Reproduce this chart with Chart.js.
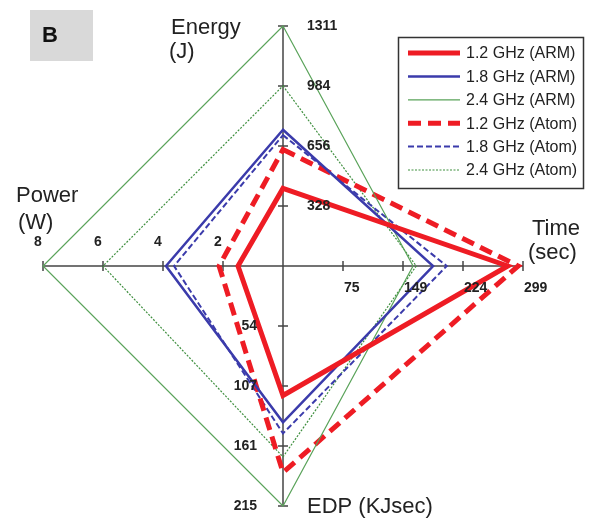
<!DOCTYPE html>
<html>
<head>
<meta charset="utf-8">
<script src="https://cdn.jsdelivr.net/npm/chart.js@4.4.1/dist/chart.umd.min.js"></script>
<style>
  body { margin: 0; background: #fff; }
  #wrap { width: 596px; height: 519px; }
</style>
</head>
<body>
<div id="wrap"><canvas id="radarChart" width="596" height="519"></canvas></div>
<script>
// axes, clockwise from the top
let axisNames = ["Energy", "Time", "EDP", "Power"];
let axisMax = [1311, 299, 215, 8];
let energyTicks = ["328", "656", "984", "1311"];
let timeTicks = ["75", "149", "224", "299"];
let edpTicks = ["54", "107", "161", "215"];
let powerTicks = ["2", "4", "6", "8"];

// raw values: [Energy (J), Time (sec), EDP (KJsec), Power (W)]
let arm12 = [424, 280, 116, 1.5];
let arm18 = [744, 187, 140, 3.9];
let arm24 = [1311, 162, 215, 8];
let atom12 = [636, 293, 185, 2.13];
let atom18 = [715, 204, 150, 3.63];
let atom24 = [984, 166, 171, 6];

let seriesNames = ["1.2 GHz (ARM)", "1.8 GHz (ARM)", "2.4 GHz (ARM)", "1.2 GHz (Atom)", "1.8 GHz (Atom)", "2.4 GHz (Atom)"];

// every axis is scaled to 0..4 so all four share one radial scale
function norm(values) {
    return values.map((v, i) => v / axisMax[i] * 4);
}

let styles = [
    { color: "#ee1c24", width: 5, dash: [] },
    { color: "#3b3bab", width: 2.5, dash: [] },
    { color: "#5aa35a", width: 1.2, dash: [] },
    { color: "#ee1c24", width: 5, dash: [13, 7] },
    { color: "#3b3bab", width: 2, dash: [6, 3] },
    { color: "#3f8f3f", width: 1.2, dash: [2, 1.5] }
];

let seriesData = [arm12, arm18, arm24, atom12, atom18, atom24];

let datasets = seriesData.map((vals, i) => ({
    label: seriesNames[i],
    data: norm(vals),
    borderColor: styles[i].color,
    borderWidth: styles[i].width,
    borderDash: styles[i].dash,
    borderJoinStyle: "miter",
    fill: false,
    pointRadius: 0,
    pointHoverRadius: 0
}));

const FONT = "'Liberation Sans', Arial, sans-serif";

// tick marks, tick labels, axis titles, legend and panel letter
const decorPlugin = {
    id: "decor",
    beforeDatasetsDraw(chart) {
        let ctx = chart.ctx;
        let r = chart.scales.r;
        ctx.save();
        ctx.strokeStyle = "#444";
        ctx.lineWidth = 1.5;
        for (let i = 0; i < axisNames.length; i++) {
            let a = r.getIndexAngle(i) - Math.PI / 2;
            let px = -Math.sin(a), py = Math.cos(a);
            for (let k = 1; k <= 4; k++) {
                let p = r.getPointPosition(i, r.getDistanceFromCenterForValue(k));
                ctx.beginPath();
                ctx.moveTo(p.x - px * 5, p.y - py * 5);
                ctx.lineTo(p.x + px * 5, p.y + py * 5);
                ctx.stroke();
            }
        }
        ctx.restore();
    },
    afterDraw(chart) {
        let ctx = chart.ctx;
        let r = chart.scales.r;
        let cx = r.xCenter, cy = r.yCenter;
        ctx.save();

        // tick labels
        ctx.fillStyle = "#222";
        ctx.font = "bold 14px " + FONT;
        let tickSets = [energyTicks, timeTicks, edpTicks, powerTicks];
        for (let i = 0; i < 4; i++) {
            for (let k = 1; k <= 4; k++) {
                let p = r.getPointPosition(i, r.getDistanceFromCenterForValue(k));
                let txt = tickSets[i][k - 1];
                if (i === 0) { ctx.textAlign = "left"; ctx.textBaseline = "middle"; ctx.fillText(txt, p.x + 24, p.y); }
                if (i === 1) { ctx.textAlign = "left"; ctx.textBaseline = "middle"; ctx.fillText(txt, p.x + 1, p.y + 22); }
                if (i === 2) { ctx.textAlign = "right"; ctx.textBaseline = "middle"; ctx.fillText(txt, p.x - 26, p.y); }
                if (i === 3) { ctx.textAlign = "center"; ctx.textBaseline = "middle"; ctx.fillText(txt, p.x - 5, p.y - 24); }
            }
        }

        // axis titles
        ctx.font = "22px " + FONT;
        ctx.textAlign = "left";
        ctx.textBaseline = "alphabetic";
        ctx.fillText("Energy", cx - 112, cy - 232);
        ctx.fillText("(J)", cx - 114, cy - 208);
        ctx.fillText("Power", cx - 267, cy - 64);
        ctx.fillText("(W)", cx - 265, cy - 37);
        ctx.fillText("Time", cx + 249, cy - 31);
        ctx.fillText("(sec)", cx + 245, cy - 7);
        ctx.fillText("EDP (KJsec)", cx + 24, cy + 247);

        // legend
        let lx = 398, ly = 37;
        ctx.strokeStyle = "#333";
        ctx.lineWidth = 1.5;
        ctx.strokeRect(lx + 0.5, ly + 0.5, 185, 151);
        ctx.font = "16px " + FONT;
        ctx.textBaseline = "middle";
        ctx.fillStyle = "#222";
        for (let i = 0; i < seriesNames.length; i++) {
            let y = ly + 16 + i * 23.4;
            ctx.strokeStyle = styles[i].color;
            ctx.lineWidth = styles[i].width;
            ctx.setLineDash(styles[i].dash);
            ctx.beginPath();
            ctx.moveTo(lx + 10, y);
            ctx.lineTo(lx + 62, y);
            ctx.stroke();
            ctx.setLineDash([]);
            ctx.fillText(seriesNames[i], lx + 68, y + 1);
        }

        // panel letter
        ctx.fillStyle = "#d9d9d9";
        ctx.fillRect(30, 10, 63, 51);
        ctx.fillStyle = "#111";
        ctx.font = "bold 22px " + FONT;
        ctx.textAlign = "center";
        ctx.fillText("B", 50, 36);
        ctx.restore();
    }
};

new Chart(document.getElementById("radarChart"), {
    type: "radar",
    data: { labels: axisNames, datasets: datasets },
    options: {
        responsive: false,
        animation: false,
        layout: { padding: { left: 43, right: 73, top: 26, bottom: 13 } },
        plugins: { legend: { display: false }, tooltip: { enabled: false } },
        elements: { line: { tension: 0 } },
        scales: {
            r: {
                min: 0,
                max: 4,
                ticks: { display: false, stepSize: 1 },
                grid: { display: false },
                pointLabels: { display: false },
                angleLines: { display: true, color: "#444", lineWidth: 1.5 }
            }
        }
    },
    plugins: [decorPlugin]
});
</script>
</body>
</html>
